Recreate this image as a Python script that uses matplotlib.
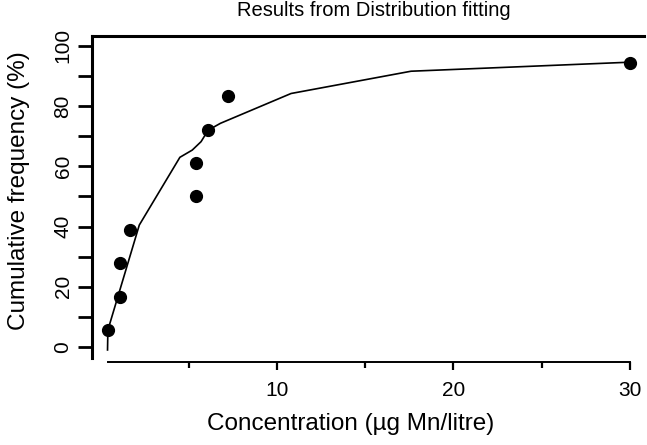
import matplotlib
matplotlib.use("Agg")
import matplotlib.pyplot as plt
from matplotlib.ticker import MultipleLocator

plt.rcParams['font.family'] = ['Liberation Sans', 'DejaVu Sans']

# observed concentrations (ug Mn/litre) and cumulative frequency (%)
conc = [0.4, 1.1, 1.1, 1.7, 5.4, 5.4, 6.1, 7.2, 30.0]
cum_freq = [5.6, 16.7, 27.8, 38.9, 50.0, 61.1, 72.2, 83.3, 94.4]

# fitted distribution curve
fit_x = [0.4, 0.42, 2.2, 4.5, 5.2, 5.7, 6.1, 6.8, 10.8, 17.6, 30.0]
fit_y = [-1.0, 5.6, 40.5, 63.0, 65.4, 68.2, 72.0, 74.3, 84.2, 91.6, 94.6]

W, H = 647, 445
fig = plt.figure(figsize=(W / 100, H / 100), dpi=100)
# axes box in pixels: left 92, right 644, top 36, bottom 362
ax = fig.add_axes([92 / W, (H - 362) / H, (644 - 92) / W, (362 - 36) / H])

ax.plot(fit_x, fit_y, color='black', lw=1.2)
ax.plot(conc, cum_freq, 'o', color='black', ms=8.5)

ax.set_xlim(-0.48, 30.8)
ax.set_ylim(-5.0, 103.3)

ax.spines['right'].set_visible(False)
ax.spines['top'].set_linewidth(2.2)
ax.spines['left'].set_linewidth(2.2)
ax.spines['left'].set_bounds(-3.7, 103.3)
ax.spines['bottom'].set_linewidth(1.4)
ax.spines['bottom'].set_bounds(0.4, 30)

ax.yaxis.set_major_locator(MultipleLocator(20))
ax.yaxis.set_minor_locator(MultipleLocator(10))
ax.set_xticks([10, 20, 30])
ax.set_xticks([5, 15, 25], minor=True)

ax.tick_params(axis='y', which='both', length=10, width=2, labelsize=15, pad=4)
ax.tick_params(axis='x', which='major', length=6, width=1.6, labelsize=15, pad=8)
ax.tick_params(axis='x', which='minor', length=4, width=1.6)
for lab in ax.get_yticklabels():
    lab.set_rotation(90)
    lab.set_va('center')

fig.text(374 / W, (H - 16) / H, 'Results from Distribution fitting',
         ha='center', va='baseline', fontsize=14.5)
fig.text(351 / W, (H - 430) / H, 'Concentration (\u00b5g Mn/litre)',
         ha='center', va='baseline', fontsize=17.5)
fig.text(19 / W, (H - 191) / H, 'Cumulative frequency (%)',
         ha='center', va='center', rotation=90, fontsize=17.5)

fig.savefig('out.png', dpi=100)
